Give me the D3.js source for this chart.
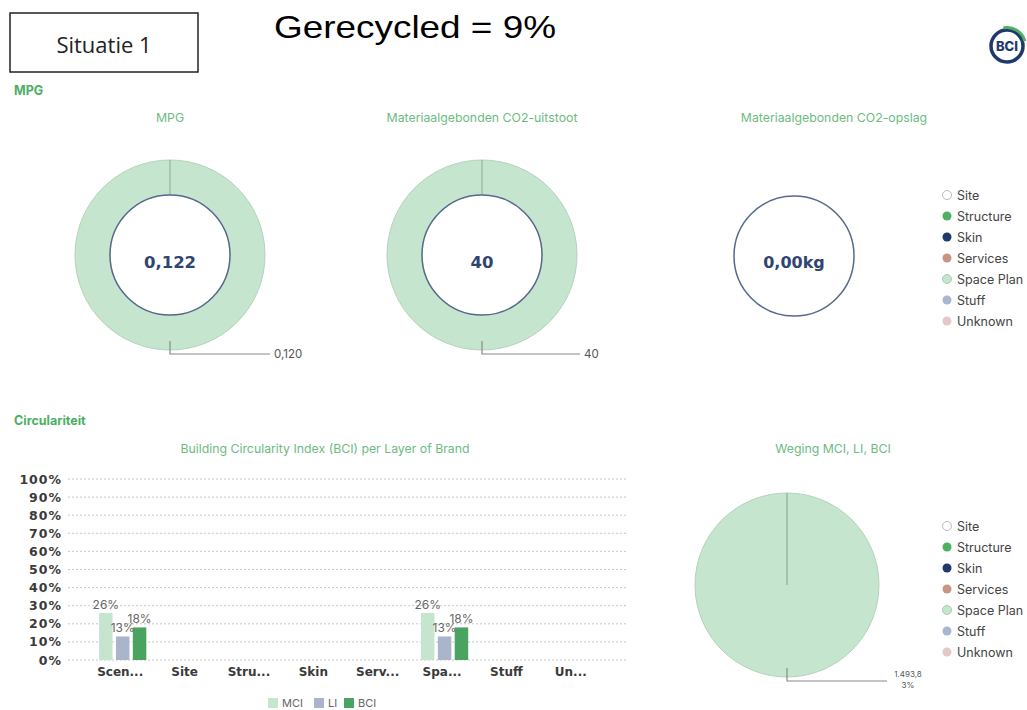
<!DOCTYPE html>
<html>
<head>
<meta charset="utf-8">
<script src="https://cdn.jsdelivr.net/npm/d3@7"></script>
<style>
  body { margin: 0; background: #fff; }
  svg { display: block; font-family: Inter, "Noto Sans", sans-serif; }
</style>
</head>
<body>
<div id="chart"></div>
<script>
// Layers of Brand (legend + donut slices)
const layers = ["Site", "Structure", "Skin", "Services", "Space Plan", "Stuff", "Unknown"];
const layerColors = ["#ffffff", "#4caf61", "#1e3a6d", "#c69584", "#c6e5cf", "#a9b6cf", "#e3c8c8"];

// MPG donuts
const mpgValues = [0, 0, 0, 0, 0.120, 0, 0];
const mpgLabels = ["", "", "", "", "0,120", "", ""];
const mpgTotal = "0,122";
const co2Values = [0, 0, 0, 0, 40, 0, 0];
const co2Labels = ["", "", "", "", "40", "", ""];
const co2Total = "40";
const opslagTotal = "0,00kg";

// BCI bars
const barCategories = ["Scen...", "Site", "Stru...", "Skin", "Serv...", "Spa...", "Stuff", "Un..."];
const barSeries = ["MCI", "LI", "BCI"];
const mciValues = [26, 0, 0, 0, 0, 26, 0, 0];
const liValues = [13, 0, 0, 0, 0, 13, 0, 0];
const bciValues = [18, 0, 0, 0, 0, 18, 0, 0];

// Weging pie
const wegingValues = [0, 0, 0, 0, 1493.8, 0, 0];
const wegingLabels = ["", "", "", "", "1.493,8", "", ""];
const wegingPct = ["", "", "", "", "3%", "", ""];

var svgWidth = 1027;
var svgHeight = 710;

var svg = d3.select("#chart")
  .append("svg")
  .attr("width", svgWidth)
  .attr("height", svgHeight);

var titleGreen = "#6dbb81";
var sectionGreen = "#4caf61";
var wideBold = "'DejaVu Sans', sans-serif";
var layerColor = d3.scaleOrdinal().domain(layers).range(layerColors);

// ---- header ----
svg.append("rect")
  .attr("x", 10).attr("y", 13)
  .attr("width", 188).attr("height", 59)
  .attr("fill", "none").attr("stroke", "#222").attr("stroke-width", 1.5);
svg.append("text")
  .attr("x", 104).attr("y", 53)
  .attr("text-anchor", "middle")
  .style("font-family", "'Open Sans', sans-serif")
  .style("font-size", "22px").attr("fill", "#222")
  .text("Situatie 1");
svg.append("text")
  .attr("x", 274).attr("y", 38)
  .attr("textLength", 282).attr("lengthAdjust", "spacingAndGlyphs")
  .style("font-family", "'Liberation Sans', Arial, sans-serif")
  .style("font-size", "32px").attr("fill", "#000")
  .text("Gerecycled = 9%");

// BCI logo
var logo = svg.append("g").attr("transform", "translate(1007, 46)");
logo.append("circle").attr("r", 16).attr("fill", "#fff")
  .attr("stroke", "#1e3a6d").attr("stroke-width", 3.5);
logo.append("path")
  .attr("d", d3.arc()({ innerRadius: 17, outerRadius: 20, startAngle: -0.2, endAngle: 1.3 }))
  .attr("fill", "#4caf61");
logo.append("text").attr("y", 5).attr("text-anchor", "middle")
  .style("font-size", "13px").style("font-weight", 800).attr("fill", "#1e3a6d")
  .text("BCI");

// section labels
svg.append("text").attr("x", 14).attr("y", 95)
  .style("font-size", "12.5px").style("font-weight", 700).attr("fill", sectionGreen).text("MPG");
svg.append("text").attr("x", 14).attr("y", 425)
  .style("font-size", "12.5px").style("font-weight", 700).attr("fill", sectionGreen).text("Circulariteit");

// ---- donut helper ----
function drawDonut(cx, cy, title, values, labels, total, outerR, innerR, lead) {
  var g = svg.append("g").attr("transform", `translate(${cx}, ${cy})`);

  svg.append("text").attr("x", cx).attr("y", 122)
    .attr("text-anchor", "middle")
    .style("font-size", "12.3px").attr("fill", titleGreen)
    .text(title);

  var pie = d3.pie().sort(null).value(d => d)(values);
  var arc = d3.arc().innerRadius(innerR).outerRadius(outerR);
  var slices = pie.filter(d => d.value > 0);

  g.selectAll("path.slice")
    .data(slices)
    .enter()
    .append("path")
    .attr("class", "slice")
    .attr("d", arc)
    .attr("fill", d => layerColors[d.index])
    .attr("stroke", "#b3d3bc")
    .attr("stroke-width", 1);

  // slice boundary
  slices.forEach(d => {
    var a = d.startAngle;
    g.append("line")
      .attr("x1", Math.sin(a) * innerR).attr("y1", -Math.cos(a) * innerR)
      .attr("x2", Math.sin(a) * outerR).attr("y2", -Math.cos(a) * outerR)
      .attr("stroke", "#8fa89a").attr("stroke-width", 1);
  });

  // inner circle
  g.append("circle").attr("r", innerR)
    .attr("fill", "#fff").attr("stroke", "#56688c").attr("stroke-width", 1.5);

  g.append("text").attr("y", 13)
    .attr("text-anchor", "middle")
    .style("font-family", wideBold)
    .style("font-size", "16.5px").style("font-weight", 700).attr("fill", "#2f4570")
    .text(total);

  // leader lines
  slices.forEach(d => {
    var mid = (d.startAngle + d.endAngle) / 2;
    var r0 = outerR - 9;
    var x0 = Math.sin(mid) * r0, y0 = -Math.cos(mid) * r0;
    var y1 = -Math.cos(mid) * (outerR + 4);
    g.append("polyline")
      .attr("points", `${x0},${y0} ${x0},${y1} ${x0 + lead},${y1}`)
      .attr("fill", "none").attr("stroke", "#8a8a8a").attr("stroke-width", 1.2);
    g.append("text").attr("x", x0 + lead + 4).attr("y", y1 + 4)
      .style("font-size", "11.5px").attr("fill", "#555")
      .text(labels[d.index]);
  });
}

drawDonut(170, 255, "MPG", mpgValues, mpgLabels, mpgTotal, 95, 60, 100);
drawDonut(482, 255, "Materiaalgebonden CO2-uitstoot", co2Values, co2Labels, co2Total, 95, 60, 98);

// empty opslag circle
svg.append("text").attr("x", 834).attr("y", 122)
  .attr("text-anchor", "middle")
  .style("font-size", "12.3px").attr("fill", titleGreen)
  .text("Materiaalgebonden CO2-opslag");
svg.append("circle").attr("cx", 794).attr("cy", 256).attr("r", 60)
  .attr("fill", "#fff").attr("stroke", "#56688c").attr("stroke-width", 1.5);
svg.append("text").attr("x", 794).attr("y", 268)
  .attr("text-anchor", "middle")
  .style("font-family", wideBold)
  .style("font-size", "16px").style("font-weight", 700).attr("fill", "#2f4570")
  .text(opslagTotal);

// ---- layer legends ----
function drawLegend(x, y) {
  var lg = svg.append("g").attr("transform", `translate(${x}, ${y})`);
  var items = lg.selectAll("g")
    .data(layers)
    .enter()
    .append("g")
    .attr("transform", (d, i) => `translate(0, ${i * 21})`);
  items.append("circle").attr("r", 4.5)
    .attr("fill", d => layerColor(d))
    .attr("stroke", (d, i) => i === 0 ? "#bbb" : (i === 4 ? "#a9cdb3" : "none"))
    .attr("stroke-width", 1);
  items.append("text").attr("x", 10).attr("y", 4.5)
    .style("font-size", "12.5px").attr("fill", "#444")
    .text(d => d);
}
drawLegend(947, 195);
drawLegend(947, 526);

// ---- BCI bar chart ----
svg.append("text").attr("x", 325).attr("y", 453)
  .attr("text-anchor", "middle")
  .style("font-size", "12.3px").attr("fill", titleGreen)
  .text("Building Circularity Index (BCI) per Layer of Brand");

var barData = barCategories.map((c, i) => ({ cat: c, MCI: mciValues[i], LI: liValues[i], BCI: bciValues[i] }));
var barColor = d3.scaleOrdinal().domain(barSeries).range(["#c6e5cf", "#aab5cc", "#4aa361"]);

var yLinearScale = d3.scaleLinear().domain([0, 100]).range([660, 479]);
var x0 = d3.scaleBand().domain(barCategories).range([88, 603]);
var x1 = d3.scaleBand().domain(barSeries).range([0, 54]).padding(0.2);

var gridGroup = svg.append("g");
gridGroup.selectAll("line")
  .data(yLinearScale.ticks(10))
  .enter()
  .append("line")
  .attr("x1", 68).attr("x2", 627)
  .attr("y1", d => yLinearScale(d)).attr("y2", d => yLinearScale(d))
  .attr("stroke", "#c8c8c8").attr("stroke-width", 1)
  .attr("stroke-dasharray", "2,2");

var leftAxis = d3.axisLeft(yLinearScale).ticks(10).tickSize(0).tickPadding(0)
  .tickFormat(d => d + "%");
var yAxis = svg.append("g").attr("transform", "translate(62, 0)").call(leftAxis);
yAxis.select(".domain").remove();
yAxis.selectAll("text")
  .style("font-family", wideBold)
  .style("font-size", "12.5px").style("font-weight", 700)
  .style("letter-spacing", "1px").attr("fill", "#3a3a3a");

var bottomAxis = d3.axisBottom(x0).tickSize(0).tickPadding(7);
var xAxis = svg.append("g").attr("transform", "translate(0, 660)").call(bottomAxis);
xAxis.select(".domain").remove();
xAxis.selectAll("text")
  .style("font-family", wideBold)
  .style("font-size", "12px").style("font-weight", 700).attr("fill", "#3a3a3a");

var groups = svg.append("g").selectAll("g")
  .data(barData)
  .enter()
  .append("g")
  .attr("transform", d => `translate(${x0(d.cat) + 7.7}, 0)`);

var bars = groups.selectAll("rect")
  .data(d => barSeries.map(s => ({ key: s, value: d[s] })).filter(v => v.value > 0))
  .enter();

bars.append("rect")
  .attr("x", d => x1(d.key))
  .attr("y", d => yLinearScale(d.value))
  .attr("width", x1.bandwidth())
  .attr("height", d => 660 - yLinearScale(d.value))
  .attr("fill", d => barColor(d.key));

bars.append("text")
  .attr("x", d => x1(d.key) + x1.bandwidth() / 2)
  .attr("y", d => yLinearScale(d.value) - 4)
  .attr("text-anchor", "middle")
  .style("font-size", "12px").attr("fill", "#666")
  .text(d => d.value + "%");

// bar legend
var barLegend = svg.append("g").attr("transform", "translate(268, 703)");
var bl = barLegend.selectAll("g")
  .data(barSeries)
  .enter()
  .append("g")
  .attr("transform", (d, i) => `translate(${[0, 46, 76][i]}, 0)`);
bl.append("rect").attr("x", 0).attr("y", -5).attr("width", 10).attr("height", 10)
  .attr("fill", d => barColor(d));
bl.append("text").attr("x", 14).attr("y", 4)
  .style("font-size", "11px").attr("fill", "#666").text(d => d);

// ---- Weging pie ----
svg.append("text").attr("x", 833).attr("y", 453)
  .attr("text-anchor", "middle")
  .style("font-size", "12.3px").attr("fill", titleGreen)
  .text("Weging MCI, LI, BCI");

var pg = svg.append("g").attr("transform", "translate(787, 585)");
var pieR = 92;
var wegingPie = d3.pie().sort(null).value(d => d)(wegingValues).filter(d => d.value > 0);
pg.selectAll("path")
  .data(wegingPie)
  .enter()
  .append("path")
  .attr("d", d3.arc().innerRadius(0).outerRadius(pieR))
  .attr("fill", d => layerColors[d.index])
  .attr("stroke", "#b3d3bc").attr("stroke-width", 1);

wegingPie.forEach(d => {
  var a = d.startAngle;
  pg.append("line")
    .attr("x1", 0).attr("y1", 0)
    .attr("x2", Math.sin(a) * pieR).attr("y2", -Math.cos(a) * pieR)
    .attr("stroke", "#8fa89a").attr("stroke-width", 1.2);
  var mid = (d.startAngle + d.endAngle) / 2;
  var px = Math.sin(mid) * (pieR - 9), py = -Math.cos(mid) * (pieR - 9);
  var py1 = -Math.cos(mid) * (pieR + 4);
  pg.append("polyline")
    .attr("points", `${px},${py} ${px},${py1} ${px + 100},${py1}`)
    .attr("fill", "none").attr("stroke", "#8a8a8a").attr("stroke-width", 1.2);
  pg.append("text").attr("x", px + 121).attr("y", py1 - 4)
    .attr("text-anchor", "middle")
    .style("font-size", "8px").attr("fill", "#555")
    .text(wegingLabels[d.index]);
  pg.append("text").attr("x", px + 121).attr("y", py1 + 7)
    .attr("text-anchor", "middle")
    .style("font-size", "8px").attr("fill", "#555")
    .text(wegingPct[d.index]);
});
</script>
</body>
</html>
